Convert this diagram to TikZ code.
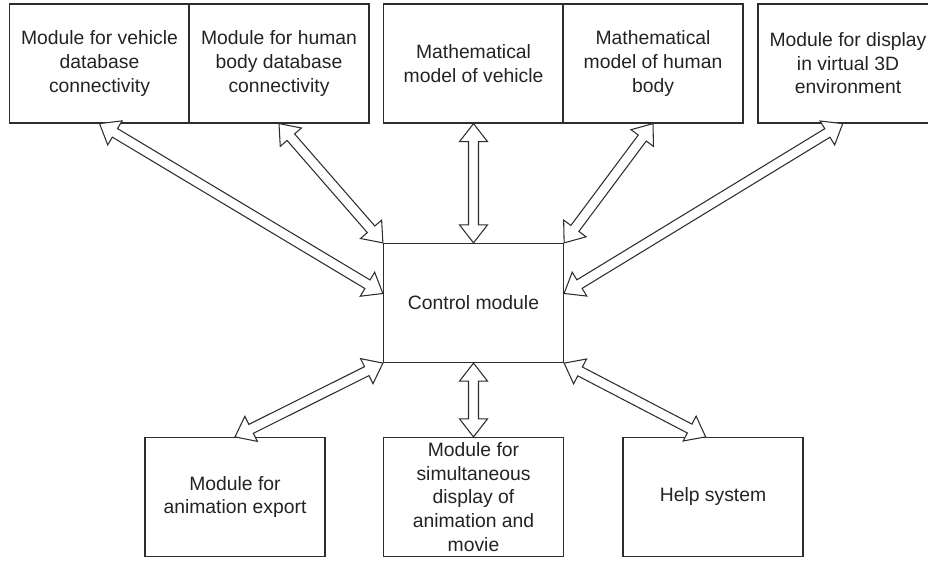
\documentclass[tikz,border=0pt]{standalone}
\usepackage{fontspec}
\setmainfont{Liberation Sans}
\usepackage{tikz}
\usetikzlibrary{calc}

\definecolor{linegray}{RGB}{45,45,45}
\definecolor{textgray}{RGB}{35,35,35}

% hollow arrow with a head at both ends
\newcommand{\dualarrow}[2]{%
  \draw[twoway] (#1)
    -- ($(#1)!0.36cm!(#2)!0.28cm!90:(#2)$)
    -- ($(#1)!0.36cm!(#2)!0.1cm!90:(#2)$)
    -- ($(#2)!0.36cm!(#1)!0.1cm!-90:(#1)$)
    -- ($(#2)!0.36cm!(#1)!0.28cm!-90:(#1)$)
    -- (#2)
    -- ($(#2)!0.36cm!(#1)!0.28cm!90:(#1)$)
    -- ($(#2)!0.36cm!(#1)!0.1cm!90:(#1)$)
    -- ($(#1)!0.36cm!(#2)!0.1cm!-90:(#2)$)
    -- ($(#1)!0.36cm!(#2)!0.28cm!-90:(#2)$)
    -- cycle;}

\begin{document}
\begin{tikzpicture}[
    modul/.style = {draw = linegray, line width = 0.7pt, minimum width = 3.6cm,
      minimum height = 2.38cm, inner sep = 0pt, align = center, text = textgray,
      font = \fontsize{11}{13.4}\selectfont},
    twoway/.style = {draw = linegray, line width = 0.6pt, fill = white, line join = miter}
  ]
  \useasboundingbox (0, 0) rectangle (18.56, -11.24);
  \clip (0, 0) rectangle (18.56, -11.24);

  \node[modul] (VDB) at (1.99, -1.27) {Module for vehicle\\database\\connectivity};
  \node[modul] (HDB) at (5.58, -1.27) {Module for human\\body database\\connectivity};
  \node[modul] (MMV) at (9.47, -1.27) {Mathematical\\model of vehicle};
  \node[modul] (MMH) at (13.06, -1.27) {Mathematical\\model of human\\body};
  \node[modul] (V3D) at (16.96, -1.27) {Module for display\\in virtual 3D\\environment};

  \node[modul] (CM) at (9.47, -6.06) {Control module};

  \node[modul] (EXP) at (4.7, -9.94) {Module for\\animation export};
  \node[modul] (SIM) at (9.47, -9.94) {Module for\\simultaneous\\display of\\animation and\\movie};
  \node[modul] (HLP) at (14.26, -9.94) {Help system};

  \dualarrow{VDB.south}{CM.174}
  \dualarrow{HDB.south}{CM.north west}
  \dualarrow{MMV.south}{CM.north}
  \dualarrow{MMH.south}{CM.north east}
  \dualarrow{V3D.265}{CM.6}
  \dualarrow{CM.south west}{EXP.north}
  \dualarrow{CM.south}{SIM.north}
  \dualarrow{CM.south east}{HLP.97}
\end{tikzpicture}
\end{document}
